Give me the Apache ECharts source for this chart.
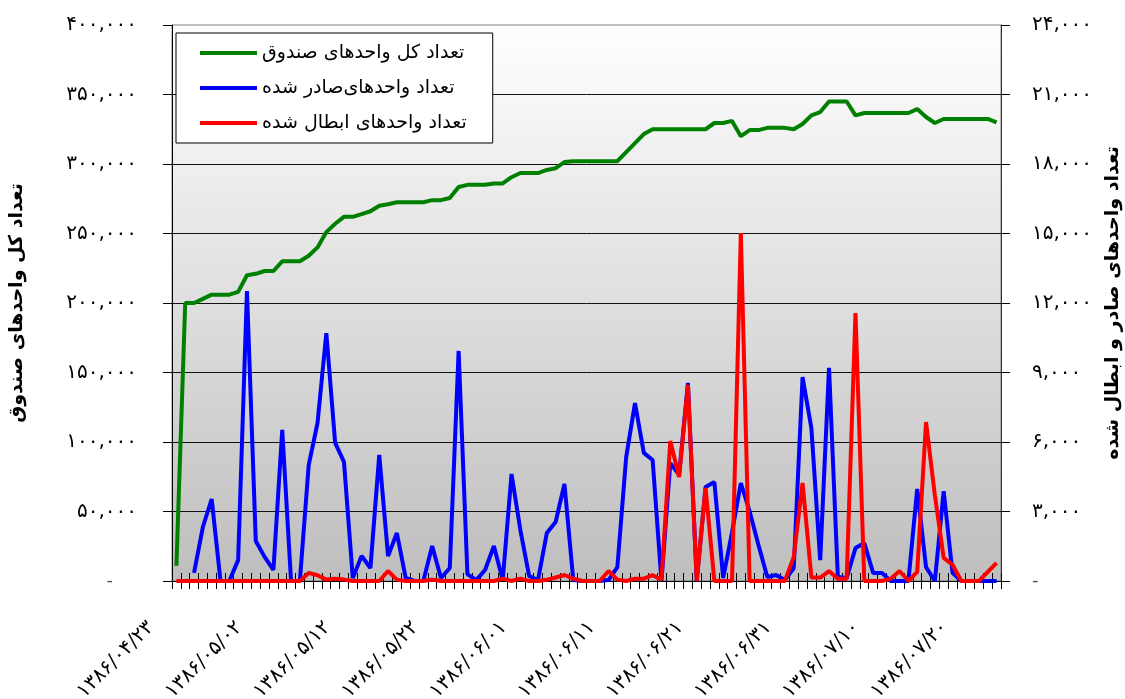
<!DOCTYPE html>
<html>
<head>
<meta charset="utf-8">
<script src="https://cdn.jsdelivr.net/npm/echarts@6/dist/echarts.min.js"></script>
<style>
  html, body { margin: 0; padding: 0; background: #fff; }
  #chart { width: 1125px; height: 699px; }
</style>
</head>
<body>
<div id="chart"></div>
<script>
// روزها (تاریخ شمسی)
var days = [
    '1386/04/23', '1386/04/24', '1386/04/25', '1386/04/26', '1386/04/27', '1386/04/28', '1386/04/29', '1386/04/30', '1386/04/31',
    '1386/05/01', '1386/05/02', '1386/05/03', '1386/05/04', '1386/05/05', '1386/05/06', '1386/05/07', '1386/05/08', '1386/05/09', '1386/05/10',
    '1386/05/11', '1386/05/12', '1386/05/13', '1386/05/14', '1386/05/15', '1386/05/16', '1386/05/17', '1386/05/18', '1386/05/19', '1386/05/20',
    '1386/05/21', '1386/05/22', '1386/05/23', '1386/05/24', '1386/05/25', '1386/05/26', '1386/05/27', '1386/05/28', '1386/05/29', '1386/05/30', '1386/05/31',
    '1386/06/01', '1386/06/02', '1386/06/03', '1386/06/04', '1386/06/05', '1386/06/06', '1386/06/07', '1386/06/08', '1386/06/09', '1386/06/10',
    '1386/06/11', '1386/06/12', '1386/06/13', '1386/06/14', '1386/06/15', '1386/06/16', '1386/06/17', '1386/06/18', '1386/06/19', '1386/06/20',
    '1386/06/21', '1386/06/22', '1386/06/23', '1386/06/24', '1386/06/25', '1386/06/26', '1386/06/27', '1386/06/28', '1386/06/29', '1386/06/30', '1386/06/31',
    '1386/07/01', '1386/07/02', '1386/07/03', '1386/07/04', '1386/07/05', '1386/07/06', '1386/07/07', '1386/07/08', '1386/07/09', '1386/07/10',
    '1386/07/11', '1386/07/12', '1386/07/13', '1386/07/14', '1386/07/15', '1386/07/16', '1386/07/17', '1386/07/18', '1386/07/19', '1386/07/20',
    '1386/07/21', '1386/07/22', '1386/07/23'
];

// تعداد کل واحدهای صندوق (محور چپ)
var totalUnits = [
    11000, 200000, 200000, 203000, 206000, 206000, 206000, 208000, 220000, 221000,
    223000, 223000, 230000, 230000, 230000, 234000, 240000, 251000, 257000, 262000,
    262000, 264000, 266000, 270000, 271000, 272500, 272500, 272500, 272500, 274000,
    274000, 275500, 283500, 285000, 285000, 285000, 286000, 286000, 290500, 293500,
    293500, 293500, 295700, 297000, 301400, 302000, 302000, 302000, 302000, 302000,
    302000, 308600, 315000, 321500, 325000, 325000, 325000, 325000, 325000, 325000,
    325000, 329500, 329500, 331000, 320000, 324400, 324400, 326000, 326000, 326000,
    325000, 328800, 335000, 337400, 345000, 345000, 345000, 335000, 336700, 336700,
    336700, 336700, 336700, 336700, 339500, 333800, 329500, 332400, 332400, 332400,
    332400, 332400, 332400, 330000
];

// تعداد واحدهای صادر شده (محور راست)
var issued = [
    null, null, 350, 2330, 3540, 0, 0, 900, 12520, 1730,
    1040, 475, 6520, 0, 0, 5000, 6820, 10700, 5960, 5140,
    130, 1080, 560, 5440, 1080, 2070, 130, 0, 0, 1510,
    130, 560, 9930, 300, 40, 475, 1510, 40, 4620, 2200,
    215, 40, 2070, 2550, 4190, 40, 0, 0, 0, 40,
    600, 5350, 7680, 5530, 5220, 0, 5090, 4580, 8550, 0,
    4060, 4270, 130, 2100, 4230, 3000, 1550, 170, 260, 40,
    560, 8800, 6600, 900, 9200, 170, 130, 1420, 1640, 350,
    350, 0, 0, 0, 3970, 600, 0, 3880, 350, 0,
    0, 0, 0, 0
];

// تعداد واحدهای ابطال شده (محور راست)
var redeemed = [
    0, 0, 0, 0, 0, 0, 0, 0, 0, 0,
    0, 0, 0, 0, 0, 350, 250, 60, 100, 60,
    0, 0, 0, 0, 430, 60, 0, 0, 0, 60,
    0, 0, 0, 0, 0, 0, 0, 100, 0, 100,
    0, 0, 50, 150, 260, 100, 0, 0, 0, 430,
    60, 0, 100, 100, 250, 60, 6040, 4490, 8460, 0,
    4020, 0, 0, 0, 15020, 0, 0, 0, 0, 0,
    1040, 4230, 150, 150, 430, 100, 100, 11570, 0, 0,
    0, 100, 430, 0, 390, 6860, 3700, 1000, 700, 0,
    0, 0, 390, 780
];

var seriesNames = ['تعداد کل واحدهای صندوق', 'تعداد واحدهای‌صادر شده', 'تعداد واحدهای ابطال شده'];

var FONT = 'DejaVu Sans';

function fa(s) {
    return String(s).replace(/[0-9]/g, function (d) { return '۰۱۲۳۴۵۶۷۸۹'.charAt(+d); });
}
function numFa(v) {
    return fa(Math.round(v).toLocaleString('en-US'));
}

var chart = echarts.init(document.getElementById('chart'));

var option = {
    animation: false,
    backgroundColor: '#fff',
    textStyle: { fontFamily: FONT },
    grid: {
        left: 172, right: 124, top: 25, bottom: 118,
        outerBoundsMode: 'none',
        containLabel: false,
        show: true,
        borderColor: '#808080',
        borderWidth: 1,
        backgroundColor: {
            type: 'linear', x: 0, y: 0, x2: 0, y2: 1,
            colorStops: [{ offset: 0, color: '#ffffff' }, { offset: 1, color: '#bebebe' }]
        }
    },
    legend: {
        orient: 'vertical',
        left: 176, top: 33,
        padding: [10, 26, 10, 24],
        itemGap: 15,
        itemWidth: 57,
        itemHeight: 4,
        icon: 'rect',
        backgroundColor: '#fff',
        borderColor: '#000',
        borderWidth: 1,
        textStyle: { fontFamily: FONT, fontSize: 19, color: '#000', lineHeight: 20 },
        data: seriesNames
    },
    xAxis: [{
        type: 'category',
        data: days,
        position: 'bottom',
        boundaryGap: true,
        axisLine: { show: true, lineStyle: { color: '#000', width: 1 } },
        axisTick: { show: true, interval: 0, length: 8, lineStyle: { color: '#000' } },
        axisLabel: {
            interval: 9,
            rotate: 45,
            margin: 18,
            padding: [0, 36, 0, 0],
            fontFamily: FONT,
            fontSize: 20,
            color: '#000',
            formatter: function (v) { return fa(v); }
        },
        splitLine: { show: false }
    }, {
        type: 'category',
        data: days,
        position: 'bottom',
        boundaryGap: true,
        axisLine: { show: false },
        axisTick: { show: true, inside: true, interval: 0, length: 8, lineStyle: { color: '#000' } },
        axisLabel: { show: false },
        splitLine: { show: false }
    }],
    yAxis: [{
        type: 'value',
        min: 0, max: 400000, interval: 50000,
        position: 'left',
        name: 'تعداد کل واحدهای صندوق',
        nameLocation: 'middle',
        nameRotate: 90,
        nameGap: 145,
        nameTextStyle: { fontFamily: FONT, fontSize: 19, fontWeight: 'bold', color: '#000' },
        axisLine: { show: true, lineStyle: { color: '#000', width: 1 } },
        axisTick: { show: true, length: 9, lineStyle: { color: '#000' } },
        axisLabel: {
            margin: 35,
            fontFamily: FONT,
            fontSize: 20,
            color: '#000',
            formatter: function (v) { return v === 0 ? '{d|-}' : numFa(v); },
            rich: { d: { fontFamily: FONT, fontSize: 18, color: '#555', padding: [0, 24, 0, 0] } }
        },
        splitLine: { show: true, showMaxLine: false, lineStyle: { color: '#111', width: 1 } }
    }, {
        type: 'value',
        min: 0, max: 24000, interval: 3000,
        position: 'right',
        name: 'تعداد واحدهای صادر و ابطال شده',
        nameLocation: 'middle',
        nameRotate: 90,
        nameGap: 103,
        nameTextStyle: { fontFamily: FONT, fontSize: 19, fontWeight: 'bold', color: '#000' },
        axisLine: { show: true, lineStyle: { color: '#333', width: 1 } },
        axisTick: { show: true, length: 9, lineStyle: { color: '#000' } },
        axisLabel: {
            margin: 31,
            fontFamily: FONT,
            fontSize: 20,
            color: '#000',
            formatter: function (v) { return v === 0 ? '{d|-}' : numFa(v); },
            rich: { d: { fontFamily: FONT, fontSize: 18, color: '#555' } }
        },
        splitLine: { show: false }
    }],
    series: [{
        name: seriesNames[0],
        type: 'line',
        yAxisIndex: 0,
        data: totalUnits,
        symbol: 'none',
        lineStyle: { color: '#008000', width: 4 },
        itemStyle: { color: '#008000' }
    }, {
        name: seriesNames[1],
        type: 'line',
        yAxisIndex: 1,
        data: issued,
        symbol: 'none',
        connectNulls: false,
        lineStyle: { color: '#0000ff', width: 4 },
        itemStyle: { color: '#0000ff' }
    }, {
        name: seriesNames[2],
        type: 'line',
        yAxisIndex: 1,
        data: redeemed,
        symbol: 'none',
        lineStyle: { color: '#ff0000', width: 4 },
        itemStyle: { color: '#ff0000' }
    }]
};

chart.setOption(option);
</script>
</body>
</html>
